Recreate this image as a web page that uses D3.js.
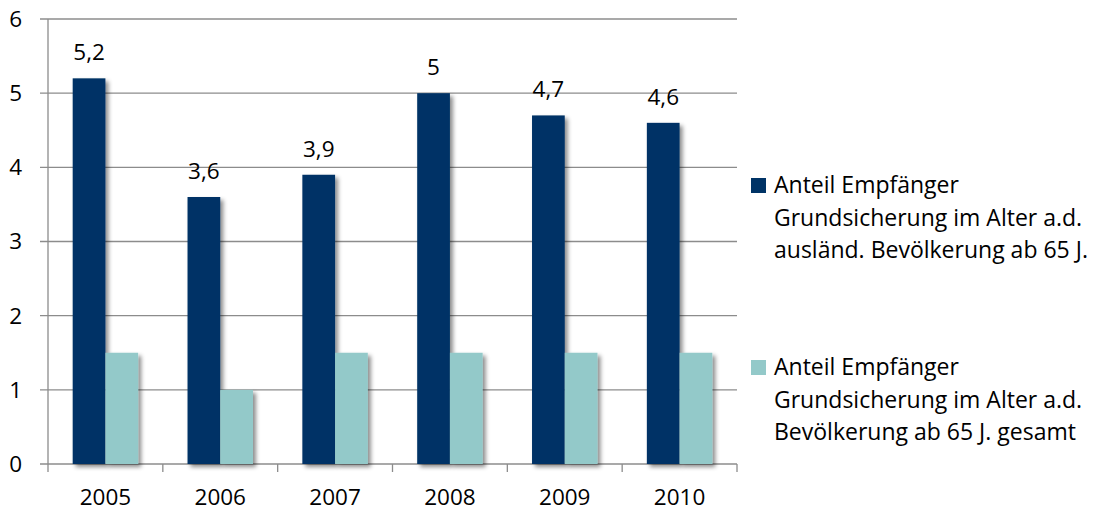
<!DOCTYPE html>
<html><head><meta charset="utf-8">
<script src="https://cdn.jsdelivr.net/npm/d3@7"></script>
<style>body{margin:0;background:#fff}svg{display:block}text{font-family:"Open Sans",sans-serif;fill:#000}</style>
</head><body><svg id="c" width="1093" height="513"></svg>
<script>
const categories = ["2005","2006","2007","2008","2009","2010"];
const seriesForeign = [5.2, 3.6, 3.9, 5, 4.7, 4.6];
const seriesTotal = [1.5, 1.0, 1.5, 1.5, 1.5, 1.5];
const yTicks = [0,1,2,3,4,5,6];
const legendForeign = ["Anteil Empfänger","Grundsicherung im Alter a.d.","ausländ. Bevölkerung ab 65 J."];
const legendTotal = ["Anteil Empfänger","Grundsicherung im Alter a.d.","Bevölkerung ab 65 J. gesamt"];
const colors = ["#003366", "#93C9C9"];

const svg = d3.select("#c");
const pLeft = 48, pRight = 737, pTop = 19, pBottom = 464;
const x = d3.scaleBand().domain(categories).range([pLeft, pRight]).paddingInner(0).paddingOuter(0);
const xs = d3.scaleBand().domain([0,1]).range([x.bandwidth()*0.215, x.bandwidth()*0.785]);
const y = d3.scaleLinear().domain([0,6]).range([pBottom, pTop]);

const defs = svg.append("defs");
const f = defs.append("filter").attr("id","sh").attr("x","-20%").attr("y","-20%").attr("width","160%").attr("height","160%");
f.append("feDropShadow").attr("dx",3).attr("dy",3).attr("stdDeviation",2.2).attr("flood-color","#000").attr("flood-opacity",0.45);

svg.append("g").selectAll("line").data(yTicks).join("line")
  .attr("x1", pLeft-8).attr("x2", pRight).attr("y1", d=>y(d)).attr("y2", d=>y(d))
  .attr("stroke","#8c8c8c").attr("stroke-width",1.3);
svg.append("line").attr("x1",pLeft).attr("x2",pLeft).attr("y1",pTop).attr("y2",pBottom).attr("stroke","#8c8c8c").attr("stroke-width",1.3);
const bounds = categories.map(c=>x(c)).concat([pRight]);
svg.append("g").selectAll("line").data(bounds).join("line")
  .attr("x1",d=>d).attr("x2",d=>d).attr("y1",pBottom).attr("y2",pBottom+8)
  .attr("stroke","#8c8c8c").attr("stroke-width",1.3);

const fs = "22.5px";
svg.append("g").selectAll("text").data(yTicks).join("text")
  .attr("x", 22).attr("y", d=>y(d)).attr("dy","0.35em").attr("text-anchor","end")
  .style("font-size",fs).text(d=>d);
svg.append("g").selectAll("text").data(categories).join("text")
  .attr("x", d=>x(d)+x.bandwidth()/2).attr("y", 497).attr("dy","0.35em").attr("text-anchor","middle")
  .style("font-size",fs).text(d=>d);

const series = [seriesForeign, seriesTotal];
series.forEach((vals, si) => {
  svg.append("g").attr("filter","url(#sh)").selectAll("rect").data(vals).join("rect")
    .attr("x", (d,i)=>x(categories[i])+xs(si)).attr("width", xs.bandwidth())
    .attr("y", d=>y(d)).attr("height", d=>pBottom-y(d)).attr("fill", colors[si]);
});

svg.append("g").selectAll("text").data(seriesForeign).join("text")
  .attr("x",(d,i)=>x(categories[i])+xs(0)+xs.bandwidth()/2).attr("y", d=>y(d)-26).attr("dy","0.35em")
  .attr("text-anchor","middle").style("font-size",fs).text(d=>String(d).replace(".",","));

function legend(lines, color, y0){
  const g = svg.append("g");
  g.append("rect").attr("x",751).attr("y",y0-7).attr("width",15).attr("height",15).attr("fill",color);
  lines.forEach((t,i)=>g.append("text").attr("x",774).attr("y",y0+i*32.5).attr("dy","0.35em").style("font-size","23px").text(t));
}
legend(legendForeign, colors[0], 185);
legend(legendTotal, colors[1], 367);
</script></body></html>
